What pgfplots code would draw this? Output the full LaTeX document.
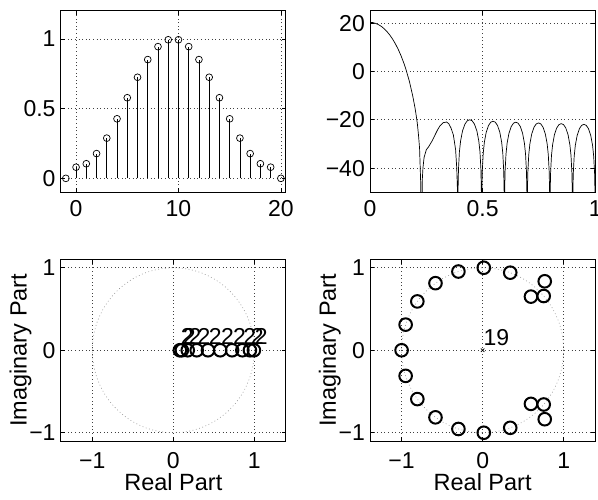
\documentclass[border=0pt]{standalone}
\usepackage{fontspec}
\setmainfont{Liberation Sans}
\usepackage{pgfplots}
\pgfplotsset{compat=1.18}

\pgfplotstableread{
x y
0 20.29
0.0125 20.2
0.025 19.88
0.0375 19.35
0.05 18.65
0.0625 17.7
0.075 16.54
0.0875 15.1
0.1 13.43
0.1125 11.45
0.125 9.19
0.1375 6.55
0.15 3.5
0.16 0.7
0.175 -4.16
0.19 -10.27
0.2 -15.2
0.205 -18.18
0.21 -21.5
0.215 -26.1
0.22 -31.7
0.225 -46
0.2285 -80
0.232 -45
0.235 -40
0.24 -35.6
0.25 -32.4
0.26 -31.2
0.275 -28.85
0.3 -24.15
0.31 -22.6
0.325 -21.18
0.34 -20.93
0.35 -21.65
0.36 -23.5
0.37 -26.27
0.38 -32.4
0.385 -39.9
0.3885 -50
0.3895 -80
0.3906 -50.1
0.3927 -40.5
0.3969 -33.2
0.4022 -28.7
0.4107 -24.6
0.4213 -21.8
0.4319 -20.4
0.4425 -20.0
0.4531 -20.4
0.4637 -21.8
0.4743 -24.6
0.4828 -28.7
0.4881 -33.2
0.4923 -40.5
0.4944 -50.1
0.4955 -80
0.4965 -50.7
0.4985 -41.1
0.5026 -33.8
0.5076 -29.3
0.5157 -25.2
0.5258 -22.4
0.5359 -21.0
0.546 -20.6
0.5561 -21.0
0.5662 -22.4
0.5763 -25.2
0.5844 -29.3
0.5894 -33.8
0.5935 -41.1
0.5955 -50.7
0.5965 -80
0.5975 -51.1
0.5995 -41.5
0.6036 -34.2
0.6086 -29.7
0.6167 -25.6
0.6268 -22.8
0.6369 -21.4
0.647 -21.0
0.6571 -21.4
0.6672 -22.8
0.6773 -25.6
0.6854 -29.7
0.6904 -34.2
0.6945 -41.5
0.6965 -51.1
0.6975 -80
0.6985 -51.4
0.7005 -41.8
0.7046 -34.5
0.7096 -30.0
0.7177 -25.9
0.7278 -23.1
0.7379 -21.7
0.748 -21.3
0.7581 -21.7
0.7682 -23.1
0.7783 -25.9
0.7864 -30.0
0.7914 -34.5
0.7955 -41.8
0.7975 -51.4
0.7985 -80
0.7995 -51.7
0.8015 -42.1
0.8055 -34.8
0.8106 -30.3
0.8186 -26.2
0.8287 -23.4
0.8388 -22.0
0.8489 -21.6
0.8589 -22.0
0.869 -23.4
0.8791 -26.2
0.8871 -30.3
0.8922 -34.8
0.8962 -42.1
0.8982 -51.7
0.8992 -80
0.9002 -52.0
0.9022 -42.4
0.9063 -35.1
0.9113 -30.6
0.9194 -26.5
0.9294 -23.7
0.9395 -22.3
0.9496 -21.9
0.9597 -22.3
0.9698 -23.7
0.9798 -26.5
0.9879 -30.6
0.9929 -35.1
0.997 -42.4
0.999 -52.0
1.0 -80
}\freqtable

\tikzset{lbl/.style={anchor=base west, inner sep=0pt, font=\fontsize{23}{27}\selectfont}}

\pgfplotsset{
  mystyle/.style={
    scale only axis, width=225.3pt, anchor=south west,
    axis line style={line width=1pt},
    tick style={black, line width=0.6pt},
    major tick length=4pt, tick align=inside,
    grid=major,
    grid style={black!75, line width=0.6pt, dash pattern=on 0.8pt off 2.8pt},
    tick label style={font=\fontsize{23}{27}\selectfont, inner sep=0pt},
    label style={font=\fontsize{23.5}{28}\selectfont},
    yticklabel style={xshift=-5pt},
  },
  zstyle/.style={
    mystyle, height=181.5pt,
    xmin=-1.39, xmax=1.39, ymin=-1.1, ymax=1.1,
    xtick={-1,0,1}, xticklabels={−1,0,1},
    ytick={-1,0,1}, yticklabels={−1,0,1},
    xticklabel style={yshift=-11pt},
    xlabel={Real Part}, ylabel={Imaginary Part},
    xlabel style={at={(axis description cs:0.5,-0.27)}, anchor=base},
    ylabel style={at={(axis description cs:-0.151,0.5)}, anchor=base},
  },
  ucirc/.style={black!45, line width=0.6pt, dash pattern=on 0.8pt off 2.6pt, smooth},
  zmark/.style={only marks, black, mark=o, mark size=6.3pt, mark options={line width=2pt}}
}

\begin{document}
\begin{tikzpicture}
\path[use as bounding box] (0,0) rectangle (598pt,499pt);

% top left: stem plot
\begin{axis}[mystyle, at={(60.7pt,306.7pt)}, height=181.3pt,
  xmin=-1.5, xmax=20.5, ymin=-0.1, ymax=1.2,
  xtick={0,10,20}, xticklabels={0,10,20},
  ytick={0,0.5,1}, yticklabels={0,0.5,1},
  xticklabel style={yshift=-8pt}]
\addplot[ycomb, black, line width=0.6pt, mark=o, mark size=3.4pt,
  mark options={line width=0.7pt}] coordinates {
(-1,0) (0,0.08) (1,0.1048) (2,0.1775) (3,0.2884) (4,0.4270) (5,0.5780)
(6,0.7248) (7,0.8516) (8,0.9446) (9,0.9937) (10,0.9937) (11,0.9446)
(12,0.8516) (13,0.7248) (14,0.5780) (15,0.4270) (16,0.2884) (17,0.1775)
(18,0.1048) (19,0.08) (20,0)};
\end{axis}

% top right: magnitude response
\begin{axis}[mystyle, at={(370pt,306.7pt)}, height=181.3pt,
  xmin=0, xmax=1, ymin=-50, ymax=25,
  xtick={0,0.5,1}, xticklabels={0,0.5,1},
  ytick={-40,-20,0,20}, yticklabels={−40,−20,0,20},
  xticklabel style={yshift=-8pt}]
\addplot[black, line width=0.7pt, mark=none] table[x=x,y=y] {\freqtable};
\end{axis}

% bottom left: zplane of window values
\begin{axis}[zstyle, at={(60.7pt,58pt)}]
\addplot[ucirc] coordinates {
(1,0) (0.9848,0.1736) (0.9397,0.3420) (0.8660,0.5) (0.7660,0.6428) (0.6428,0.7660)
(0.5,0.8660) (0.3420,0.9397) (0.1736,0.9848) (0,1) (-0.1736,0.9848) (-0.3420,0.9397)
(-0.5,0.8660) (-0.6428,0.7660) (-0.7660,0.6428) (-0.8660,0.5) (-0.9397,0.3420)
(-0.9848,0.1736) (-1,0) (-0.9848,-0.1736) (-0.9397,-0.3420) (-0.8660,-0.5)
(-0.7660,-0.6428) (-0.6428,-0.7660) (-0.5,-0.8660) (-0.3420,-0.9397) (-0.1736,-0.9848)
(0,-1) (0.1736,-0.9848) (0.3420,-0.9397) (0.5,-0.8660) (0.6428,-0.7660)
(0.7660,-0.6428) (0.8660,-0.5) (0.9397,-0.3420) (0.9848,-0.1736) (1,0)};
\addplot[zmark] coordinates {
(0.08,0) (0.1048,0) (0.1775,0) (0.2884,0) (0.4270,0) (0.5780,0) (0.7248,0)
(0.8516,0) (0.9446,0) (0.9937,0)};
\node[lbl] at (axis cs:0.09,0.065) {2};
\node[lbl] at (axis cs:0.1148,0.065) {2};
\node[lbl] at (axis cs:0.1875,0.065) {2};
\node[lbl] at (axis cs:0.2984,0.065) {2};
\node[lbl] at (axis cs:0.4370,0.065) {2};
\node[lbl] at (axis cs:0.5880,0.065) {2};
\node[lbl] at (axis cs:0.7348,0.065) {2};
\node[lbl] at (axis cs:0.8616,0.065) {2};
\node[lbl] at (axis cs:0.9546,0.065) {2};
\node[lbl] at (axis cs:1.0037,0.065) {2};
\end{axis}

% bottom right: zplane of filter
\begin{axis}[zstyle, at={(370pt,58pt)}]
\addplot[ucirc] coordinates {
(1,0) (0.9848,0.1736) (0.9397,0.3420) (0.8660,0.5) (0.7660,0.6428) (0.6428,0.7660)
(0.5,0.8660) (0.3420,0.9397) (0.1736,0.9848) (0,1) (-0.1736,0.9848) (-0.3420,0.9397)
(-0.5,0.8660) (-0.6428,0.7660) (-0.7660,0.6428) (-0.8660,0.5) (-0.9397,0.3420)
(-0.9848,0.1736) (-1,0) (-0.9848,-0.1736) (-0.9397,-0.3420) (-0.8660,-0.5)
(-0.7660,-0.6428) (-0.6428,-0.7660) (-0.5,-0.8660) (-0.3420,-0.9397) (-0.1736,-0.9848)
(0,-1) (0.1736,-0.9848) (0.3420,-0.9397) (0.5,-0.8660) (0.6428,-0.7660)
(0.7660,-0.6428) (0.8660,-0.5) (0.9397,-0.3420) (0.9848,-0.1736) (1,0)};
\addplot[zmark] coordinates {
(0.3404,0.9403) (0.0140,0.9999) (-0.2990,0.9542) (-0.5821,0.8131) (-0.8059,0.5920)
(-0.9505,0.3107) (-1,0) (0.7536,0.6574) (0.596,0.650) (0.766,0.836)
(0.3404,-0.9403) (0.0140,-0.9999) (-0.2990,-0.9542) (-0.5821,-0.8131) (-0.8059,-0.5920)
(-0.9505,-0.3107) (0.7536,-0.6574) (0.596,-0.650) (0.766,-0.836)};
\addplot[only marks, black, mark=x, mark size=2.5pt, mark options={line width=0.6pt}] coordinates {(0,0)};
\node[lbl] at (axis cs:0.01,0.06) {19};
\end{axis}
\end{tikzpicture}
\end{document}
